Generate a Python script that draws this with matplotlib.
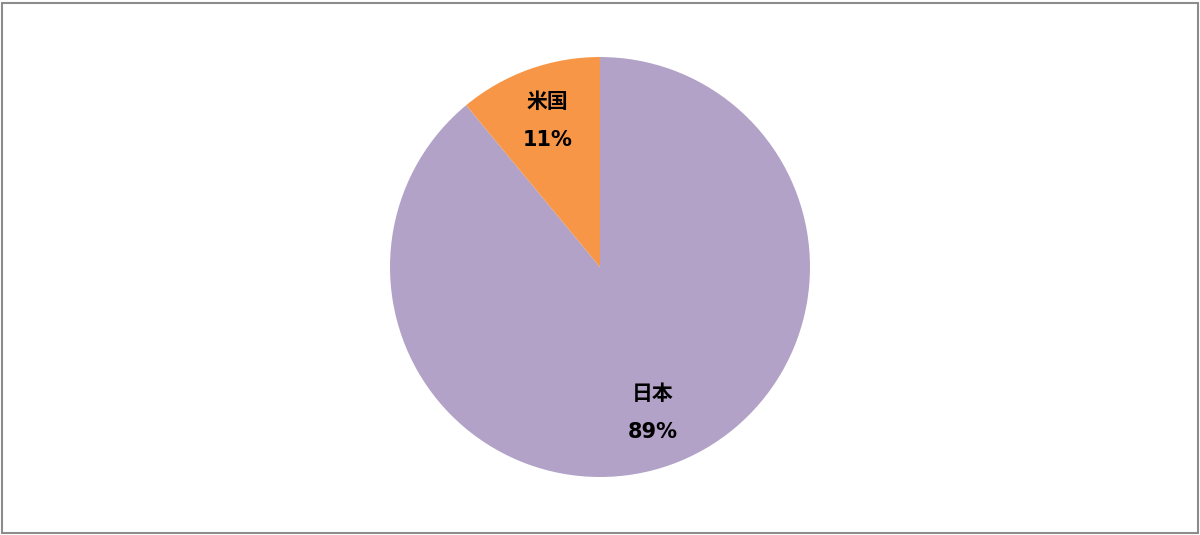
import matplotlib.pyplot as plt
from matplotlib.patches import Rectangle

labels = ["日本", "米国"]
shares = [89, 11]
colors = ["#B3A2C7", "#F79646"]

plt.rcParams["font.family"] = ["DejaVu Sans", "Noto Sans CJK JP"]

fig = plt.figure(figsize=(12, 5.35), dpi=100)
ax = fig.add_axes([0.325, 0.1084, 0.35, 0.785])

wedges, texts, autotexts = ax.pie(
    shares,
    colors=colors,
    startangle=90,
    counterclock=False,
    autopct=lambda p: "",
    pctdistance=0.74,
)
for t, lab, val in zip(autotexts, labels, shares):
    t.set_text(f"{lab}\n{val}%")
    t.set_fontsize(15)
    t.set_fontweight("bold")
    t.set_linespacing(2.15)
    t.set_color("black")
ax.set_xlim(-1, 1)
ax.set_ylim(-1, 1)
ax.set_aspect("equal")

# outer frame
fig.patches.append(Rectangle((0.002, 0.004), 0.996, 0.99, transform=fig.transFigure,
                             fill=False, edgecolor="#8c8c8c", linewidth=1.5))

fig.savefig("out.png", dpi=100)
plt.close(fig)
